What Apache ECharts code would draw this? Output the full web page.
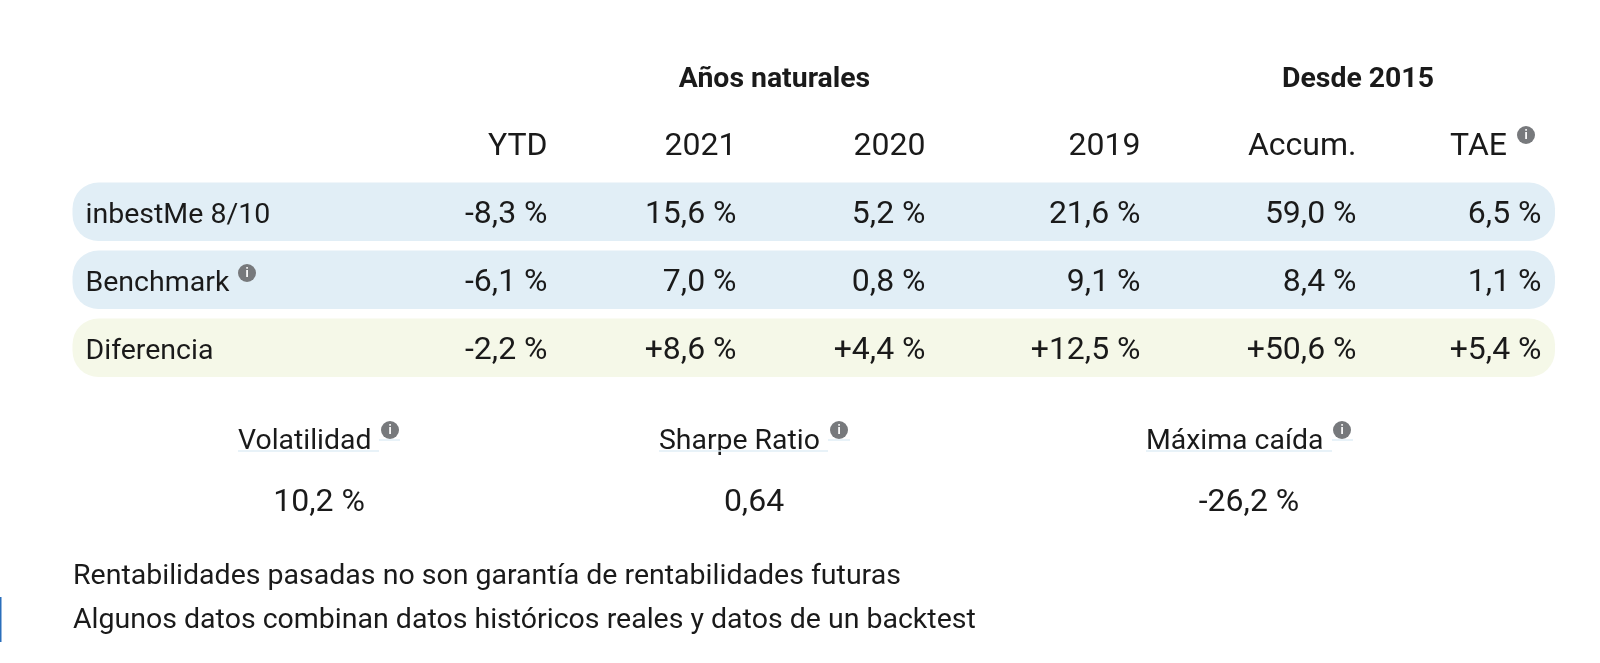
<!DOCTYPE html>
<html><head><meta charset="utf-8">
<style>html,body{margin:0;padding:0;background:#fff}#c{width:1600px;height:663px}</style>
<script src="https://cdn.jsdelivr.net/npm/echarts@6/dist/echarts.min.js"></script>
</head><body><div id="c"></div>
<script>
// ---- data ----
const groupHeaders = ['Años naturales', 'Desde 2015'];
const columns = ['YTD', '2021', '2020', '2019', 'Accum.', 'TAE'];
const rowLabels = ['inbestMe 8/10', 'Benchmark', 'Diferencia'];
const inbestMe = [-8.3, 15.6, 5.2, 21.6, 59.0, 6.5];
const benchmark = [-6.1, 7.0, 0.8, 9.1, 8.4, 1.1];
const diferencia = [-2.2, 8.6, 4.4, 12.5, 50.6, 5.4];
const statLabels = ['Volatilidad', 'Sharpe Ratio', 'Máxima caída'];
const statValues = ['10,2 %', '0,64', '-26,2 %'];
const notes = ['Rentabilidades pasadas no son garantía de rentabilidades futuras',
               'Algunos datos combinan datos históricos reales y datos de un backtest'];

// ---- layout ----
const L = {
  rowX: 72.5, rowW: 1482.5, rowH: 58.5, rowY: [182.5, 250.5, 318.5], radius: 26,
  labelX: 85.5, colX: [547.5, 736.5, 925.5, 1140.5, 1356.5, 1541.5], headX: [547.5, 736.5, 925.5, 1140.5, 1356.5, 1507],
  groupX: [774.5, 1358], groupY: 80, headY: 147,
  statLabelX: [238, 659, 1146], statValueX: [319, 754, 1249], statLabelY: 442, statValueY: 503,
  noteX: 73, noteY: [576.5, 620.5], size: 32, ink: '#1a1a1a'
};
const rowFill = ['#e1eef6', '#e1eef6', '#f5f8e8'];
const font = (s, w) => ({ fontFamily: 'Roboto', fontSize: s, fontWeight: w || 400 });
const fmt = (v, plus) => (plus && v > 0 ? '+' : '') + v.toFixed(1).replace('.', ',') + ' %';

function infoIcon(x, y) {
  return [
    { type: 'circle', shape: { cx: x, cy: y, r: 9 }, style: { fill: '#77797c' } },
    { type: 'text', style: { x: x, y: y + 0.5, text: 'i', fill: '#fff', align: 'center', verticalAlign: 'middle',
      fontFamily: 'Roboto', fontSize: 12, fontWeight: 700 } }
  ];
}

const rows = [inbestMe, benchmark, diferencia];
const pillData = rowLabels.map((_, i) => [i]);
const cellData = [];
rows.forEach((vals, r) => vals.forEach((v, c) => cellData.push([c, r, fmt(v, r === 2)])));

const graphicEls = [];
const txt = (x, y, text, align, f) => graphicEls.push({ type: 'text', style: Object.assign(
  { x, y, text, textAlign: align, textVerticalAlign: 'middle', fill: L.ink }, f) });

txt(L.groupX[0], L.groupY, groupHeaders[0], 'center', font(28.4, 700));
txt(L.groupX[1], L.groupY, groupHeaders[1], 'center', font(28.4, 700));
columns.forEach((c, i) => txt(L.headX[i], L.headY, c, 'right', font(L.size)));
statLabels.forEach((s, i) => {
  txt(L.statLabelX[i], L.statLabelY, s, 'left', font(28.4));
  txt(L.statValueX[i], L.statValueY, statValues[i], 'center', font(L.size));
});
notes.forEach((n, i) => txt(L.noteX, L.noteY[i], n, 'left', font(28.5)));

// underlines under stat labels (main run, then raised run beneath the superscript icon)
[[238, 379, 451], [379, 400, 440], [659, 828, 451], [828, 850, 440], [1146, 1332, 451], [1332, 1353, 440]].forEach(a =>
  graphicEls.push({ type: 'line', shape: { x1: a[0], y1: a[2], x2: a[1], y2: a[2] }, style: { stroke: '#e1eef6', lineWidth: 1.5 } }));
// info icons
[[247, 273], [1526, 135], [390, 430], [839, 430], [1342, 430]].forEach(p => infoIcon(p[0], p[1]).forEach(e => graphicEls.push(e)));
// page edge marker
graphicEls.push({ type: 'rect', shape: { x: 0, y: 597, width: 1.5, height: 45 }, style: { fill: '#2a6ebb' } });

const chart = echarts.init(document.getElementById('c'));
chart.setOption({
  animation: false,
  backgroundColor: '#fff',
  graphic: { elements: graphicEls.map(e => Object.assign({ z: 10 }, e)) },
  series: [
    { type: 'custom', coordinateSystem: 'none', data: pillData, z: 1,
      renderItem: (p, api) => {
        const r = api.value(0);
        return { type: 'group', children: [
          { type: 'rect', shape: { x: L.rowX, y: L.rowY[r], width: L.rowW, height: L.rowH, r: L.radius }, style: { fill: rowFill[r] } },
          { type: 'text', style: Object.assign({ x: L.labelX, y: L.rowY[r] + L.rowH / 2 + 4, text: rowLabels[r], textAlign: 'left', textVerticalAlign: 'middle', fill: L.ink }, font(28.5)) }
        ] };
      } },
    { type: 'custom', coordinateSystem: 'none', data: cellData, z: 2,
      renderItem: (p, api) => {
        const d = cellData[p.dataIndex];
        return { type: 'text', style: Object.assign({ x: L.colX[d[0]], y: L.rowY[d[1]] + L.rowH / 2 + 3, text: d[2], textAlign: 'right', textVerticalAlign: 'middle', fill: L.ink }, font(L.size)) };
      } }
  ]
});
</script></body></html>
